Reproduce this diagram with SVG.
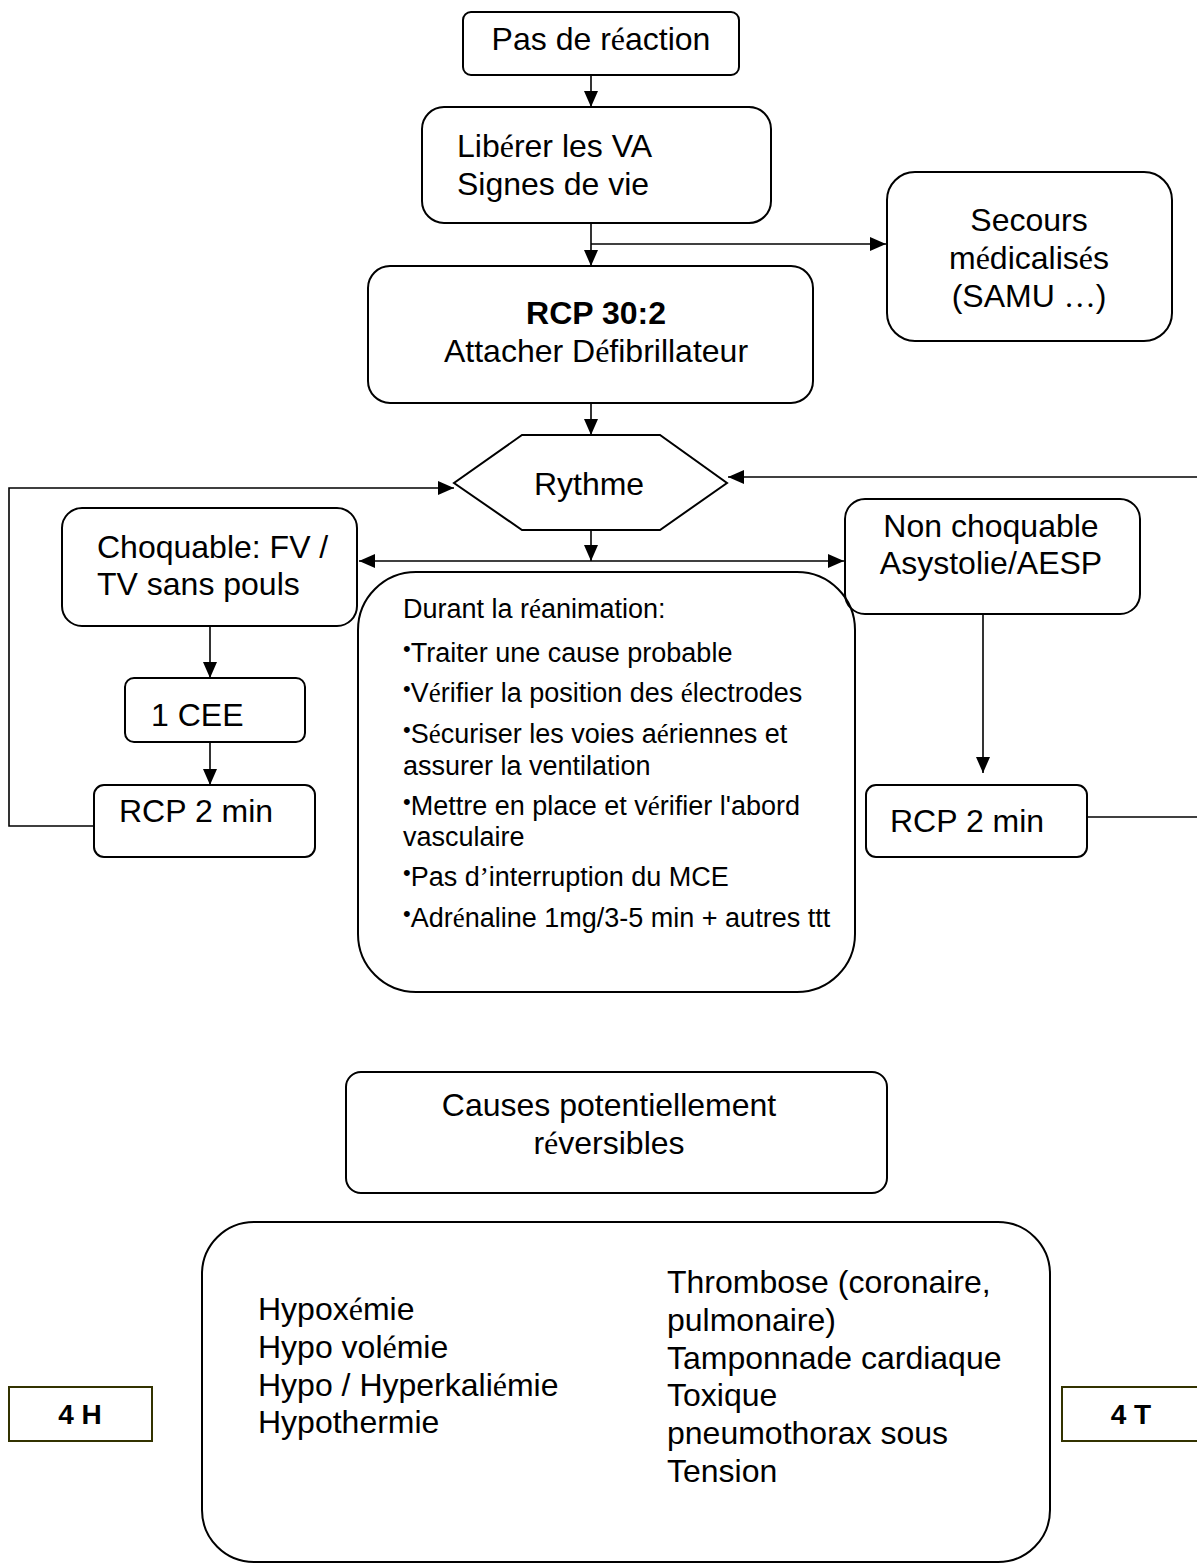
<svg xmlns="http://www.w3.org/2000/svg" width="1197" height="1566" viewBox="0 0 1197 1566">
<defs>
<style>
text{font-family:"Liberation Sans",Arial,sans-serif;fill:#000}
.t{font-size:32px}
.m{font-size:27px}
.b{font-weight:bold}
.s{font-family:"Liberation Serif","Times New Roman",serif}
.box{fill:none;stroke:#000;stroke-width:2}
.lbl{fill:#fff;stroke:#333300;stroke-width:2}
.c{fill:none;stroke:#000;stroke-width:1.6}
</style>
<marker id="ah" markerWidth="16" markerHeight="14" refX="16" refY="7" orient="auto-start-reverse" markerUnits="userSpaceOnUse"><path d="M0,0 L16,7 L0,14 z" fill="#000"/></marker>
</defs>
<rect width="1197" height="1566" fill="#fff"/>

<g id="connectors">
<path class="c" d="M591,75 V107" marker-end="url(#ah)"/>
<path class="c" d="M591,223 V266" marker-end="url(#ah)"/>
<path class="c" d="M591,244 H886" marker-end="url(#ah)"/>
<path class="c" d="M591,403 V435" marker-end="url(#ah)"/>
<path class="c" d="M591,530 V561" marker-end="url(#ah)"/>
<path class="c" d="M359,561 H844" marker-start="url(#ah)" marker-end="url(#ah)"/>
<path class="c" d="M210,626 V678" marker-end="url(#ah)"/>
<path class="c" d="M210,742 V785" marker-end="url(#ah)"/>
<path class="c" d="M94,826 H9 V488 H454" marker-end="url(#ah)"/>
<path class="c" d="M983,615 V773" marker-end="url(#ah)"/>
<path class="c" d="M1088,817 H1200"/>
<path class="c" d="M1200,477 H728" marker-end="url(#ah)"/>
</g>

<g id="n-pas-de-reaction">
<rect class="box" x="463" y="12" width="276" height="63" rx="8"/>
<text class="t" x="601" y="50" text-anchor="middle">Pas de r<tspan class="s">é</tspan>action</text>
</g>

<g id="n-liberer">
<rect class="box" x="422" y="107" width="349" height="116" rx="22"/>
<text class="t" x="457" y="157">Lib<tspan class="s">é</tspan>rer les VA</text>
<text class="t" x="457" y="195">Signes de vie</text>
</g>

<g id="n-secours">
<rect class="box" x="887" y="172" width="285" height="169" rx="28"/>
<text class="t" x="1029" y="231" text-anchor="middle">Secours</text>
<text class="t" x="1029" y="269" text-anchor="middle">m<tspan class="s">é</tspan>dicalis<tspan class="s">é</tspan>s</text>
<text class="t" x="1029" y="307" text-anchor="middle">(SAMU <tspan class="s">…</tspan>)</text>
</g>

<g id="n-rcp302">
<rect class="box" x="368" y="266" width="445" height="137" rx="22"/>
<text class="t b" x="596" y="324" text-anchor="middle">RCP 30:2</text>
<text class="t" x="596" y="362" text-anchor="middle">Attacher D<tspan class="s">é</tspan>fibrillateur</text>
</g>

<g id="n-rythme">
<polygon class="box" points="522,435 660,435 727,483 660,530 522,530 454,483"/>
<text class="t" x="589" y="495" text-anchor="middle">Rythme</text>
</g>

<g id="n-choquable">
<rect class="box" x="62" y="508" width="295" height="118" rx="20"/>
<text class="t" x="97" y="558">Choquable: FV /</text>
<text class="t" x="97" y="595">TV sans pouls</text>
</g>

<g id="n-1cee">
<rect class="box" x="125" y="678" width="180" height="64" rx="9"/>
<text class="t" x="151" y="726">1 CEE</text>
</g>

<g id="n-rcp2-left">
<rect class="box" x="94" y="785" width="221" height="72" rx="10"/>
<text class="t" x="119" y="822">RCP 2 min</text>
</g>

<g id="n-non-choquable">
<rect class="box" x="845" y="499" width="295" height="115" rx="20"/>
<text class="t" x="991" y="537" text-anchor="middle">Non choquable</text>
<text class="t" x="991" y="574" text-anchor="middle">Asystolie/AESP</text>
</g>

<g id="n-rcp2-right">
<rect class="box" x="866" y="785" width="221" height="72" rx="10"/>
<text class="t" x="890" y="832">RCP 2 min</text>
</g>

<g id="n-durant">
<rect class="box" x="358" y="572" width="497" height="420" rx="58"/>
<text class="m" x="403" y="618">Durant la r<tspan class="s">é</tspan>animation:</text>
<text class="m" x="403" y="662"><tspan font-size="22" dy="-6">•</tspan><tspan dy="6">Traiter une cause probable</tspan></text>
<text class="m" x="403" y="702"><tspan font-size="22" dy="-6">•</tspan><tspan dy="6">V</tspan><tspan class="s">é</tspan>rifier la position des <tspan class="s">é</tspan>lectrodes</text>
<text class="m" x="403" y="743"><tspan font-size="22" dy="-6">•</tspan><tspan dy="6">S</tspan><tspan class="s">é</tspan>curiser les voies a<tspan class="s">é</tspan>riennes et</text>
<text class="m" x="403" y="775">assurer la ventilation</text>
<text class="m" x="403" y="815"><tspan font-size="22" dy="-6">•</tspan><tspan dy="6">Mettre en place et v</tspan><tspan class="s">é</tspan>rifier l'abord</text>
<text class="m" x="403" y="846">vasculaire</text>
<text class="m" x="403" y="886"><tspan font-size="22" dy="-6">•</tspan><tspan dy="6">Pas d</tspan><tspan class="s">’</tspan>interruption du MCE</text>
<text class="m" x="403" y="927"><tspan font-size="22" dy="-6">•</tspan><tspan dy="6">Adr</tspan><tspan class="s">é</tspan>naline 1mg/3-5 min + autres ttt</text>
</g>

<g id="n-causes">
<rect class="box" x="346" y="1072" width="541" height="121" rx="15"/>
<text class="t" x="609" y="1116" text-anchor="middle">Causes potentiellement</text>
<text class="t" x="609" y="1154" text-anchor="middle">r<tspan class="s">é</tspan>versibles</text>
</g>

<g id="n-causes-list">
<rect class="box" x="202" y="1222" width="848" height="340" rx="52"/>
<text class="t" x="258" y="1320">Hypox<tspan class="s">é</tspan>mie</text>
<text class="t" x="258" y="1358">Hypo vol<tspan class="s">é</tspan>mie</text>
<text class="t" x="258" y="1396">Hypo / Hyperkali<tspan class="s">é</tspan>mie</text>
<text class="t" x="258" y="1433">Hypothermie</text>
<text class="t" x="667" y="1293">Thrombose (coronaire,</text>
<text class="t" x="667" y="1331">pulmonaire)</text>
<text class="t" x="667" y="1369">Tamponnade cardiaque</text>
<text class="t" x="667" y="1406">Toxique</text>
<text class="t" x="667" y="1444">pneumothorax sous</text>
<text class="t" x="667" y="1482">Tension</text>
</g>

<g id="n-4h">
<rect class="lbl" x="9" y="1387" width="143" height="54"/>
<text class="b" x="80" y="1424" font-size="28" text-anchor="middle">4 H</text>
</g>

<g id="n-4t">
<rect class="lbl" x="1062" y="1387" width="143" height="54"/>
<text class="b" x="1131" y="1424" font-size="28" text-anchor="middle">4 T</text>
</g>
</svg>
